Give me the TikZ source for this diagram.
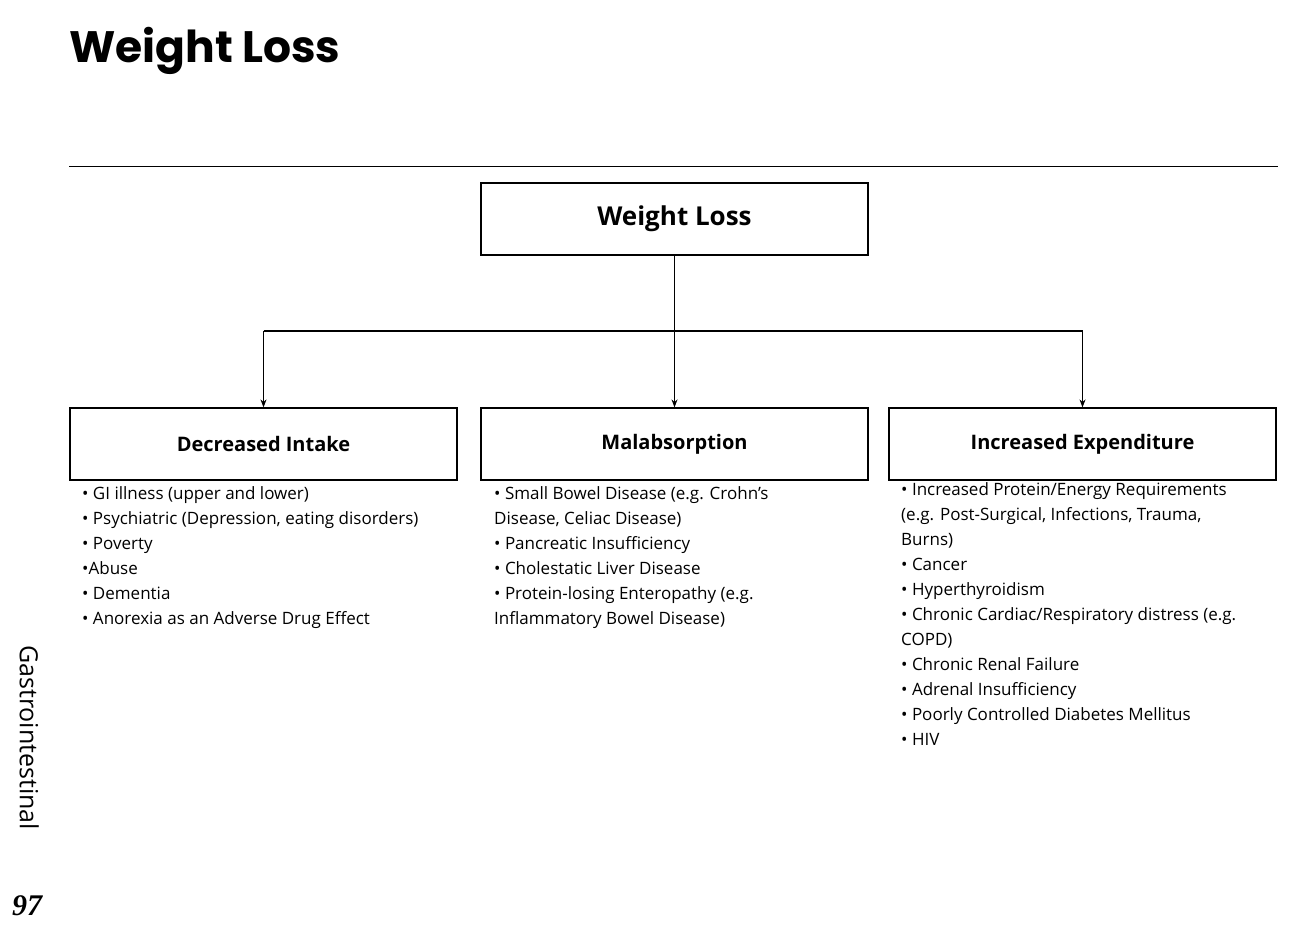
\documentclass[tikz,border=0pt]{standalone}
\usepackage{fontspec}
\setmainfont{Open Sans}
\newfontfamily\titlefont{Poppins}
\usetikzlibrary{arrows.meta}
\begin{document}
\begin{tikzpicture}[x=1pt,y=-1pt,
  box/.style={draw,line width=1.2pt,minimum width=387pt,minimum height=72pt,inner sep=0pt,font=\bfseries\fontsize{20}{24}\selectfont},
  lst/.style={anchor=north west,align=left,inner sep=0pt,font=\fontsize{17}{25}\selectfont},
  arr/.style={-{Stealth[length=8pt,width=6pt]},line width=1.1pt}]
\useasboundingbox (0,0) rectangle (1289,932);
\node[anchor=base west,inner sep=0pt,font=\titlefont\bfseries\fontsize{44}{50}\selectfont] (title) at (69,62) {Weight Loss};
\draw[line width=0.6pt] (69,166) -- (1278,166);
\node[box,font=\bfseries\fontsize{26}{30}\selectfont] (wl) at (674.5,219) {Weight Loss};
\node[box] (di) at (263.5,444) {Decreased Intake};
\node[box] (ma) at (674.5,444) {Malabsorption};
\node[box] (ie) at (1082.5,444) {Increased Expenditure};
\coordinate (j) at (674.5,331);
\draw[line width=1.4pt] (wl.south) -- (j);
\draw[line width=1.1pt] (di.north |- j) -- (ie.north |- j);
\draw[arr] (di.north |- j) -- (di.north);
\draw[arr] (j) -- (ma.north);
\draw[arr] (ie.north |- j) -- (ie.north);
\node[lst] (l1) at (82,486) {• GI illness (upper and lower)\\• Psychiatric (Depression, eating disorders)\\• Poverty\\•Abuse\\• Dementia\\• Anorexia as an Adverse Drug Effect};
\node[lst] (l2) at (494,486) {• Small Bowel Disease (e.g. Crohn’s\\Disease, Celiac Disease)\\• Pancreatic Insufficiency\\• Cholestatic Liver Disease\\• Protein-losing Enteropathy (e.g.\\Inflammatory Bowel Disease)};
\node[lst] (l3) at (901,482) {• Increased Protein/Energy Requirements\\(e.g. Post-Surgical, Infections, Trauma,\\Burns)\\• Cancer\\• Hyperthyroidism\\• Chronic Cardiac/Respiratory distress (e.g.\\COPD)\\• Chronic Renal Failure\\• Adrenal Insufficiency\\• Poorly Controlled Diabetes Mellitus\\• HIV};
\node[rotate=-90,anchor=north west,inner sep=0pt,font=\fontsize{25}{30}\selectfont] (side) at (39,645) {Gastrointestinal};
\node[anchor=base west,inner sep=0pt,font=\fontspec{Liberation Serif}\bfseries\itshape\fontsize{30}{34}\selectfont] (pg) at (12,915) {97};
\end{tikzpicture}
\end{document}
